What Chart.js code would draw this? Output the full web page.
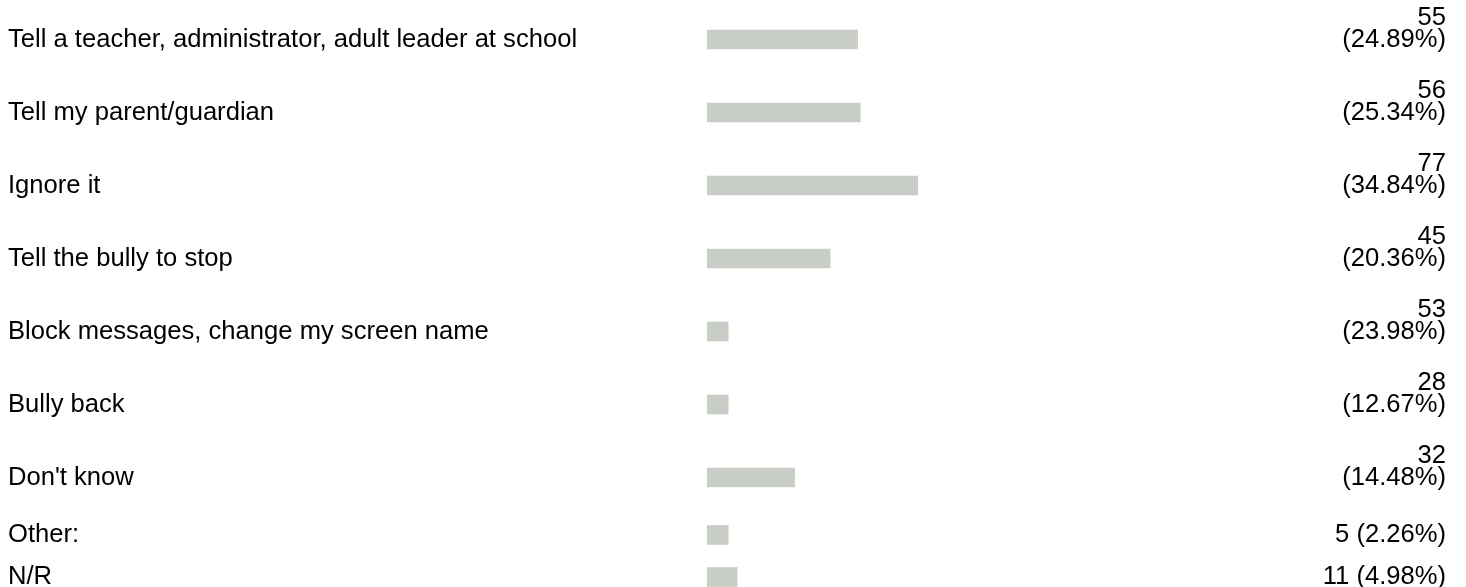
<!DOCTYPE html>
<html>
<head>
<meta charset="utf-8">
<script src="https://cdn.jsdelivr.net/npm/chart.js@4.4.1/dist/chart.umd.min.js"></script>
<style>
  html, body { margin: 0; padding: 0; background: #fff; }
  canvas { display: block; }
</style>
</head>
<body>
<canvas id="chart" width="1466" height="587"></canvas>
<script>
const answers = [
  "Tell a teacher, administrator, adult leader at school",
  "Tell my parent/guardian",
  "Ignore it",
  "Tell the bully to stop",
  "Block messages, change my screen name",
  "Bully back",
  "Don't know",
  "Other:",
  "N/R"
];
const counts = [55, 56, 77, 45, 53, 28, 32, 5, 11];
const percents = ["24.89", "25.34", "34.84", "20.36", "23.98", "12.67", "14.48", "2.26", "4.98"];
// bar lengths as drawn in the picture (percent units)
const barShown = [24.89, 25.34, 34.84, 20.36, 3.5, 3.5, 14.48, 3.5, 4.98];

const FONT = "'Liberation Sans', Arial, Helvetica, sans-serif";
const SIZE = 25.6;
const VALUE_COL = 132;
const LINE_H = 22;

// wrap value labels like the original narrow column
const mctx = document.createElement("canvas").getContext("2d");
mctx.font = `${SIZE}px ${FONT}`;
const valueLines = counts.map((c, i) => {
  const txt = `${c} (${percents[i]}%)`;
  return mctx.measureText(txt).width > VALUE_COL ? [String(c), `(${percents[i]}%)`] : [txt];
});

// row centres on the y scale: two-line rows are taller
const rowPos = [];
let acc = 0;
valueLines.forEach(l => {
  const h = l.length > 1 ? 73 : 42;
  rowPos.push(acc + h / 2);
  acc += h;
});
const yMax = 587 - 3;

const valueLabels = {
  id: "valueLabels",
  afterDatasetsDraw(chart) {
    const { ctx } = chart;
    const meta = chart.getDatasetMeta(0);
    ctx.save();
    ctx.font = `${SIZE}px ${FONT}`;
    ctx.fillStyle = "#000";
    ctx.textAlign = "right";
    ctx.textBaseline = "middle";
    meta.data.forEach((bar, i) => {
      const lines = valueLines[i];
      lines.forEach((t, k) => {
        const y = bar.y - (lines.length - 1 - k) * LINE_H;
        ctx.fillText(t, 1446, y);
      });
    });
    ctx.restore();
  }
};

new Chart(document.getElementById("chart"), {
  type: "bar",
  data: {
    datasets: [{
      data: barShown.map((v, i) => ({ x: v, y: rowPos[i] })),
      backgroundColor: "#c8cec6",
      borderWidth: 0,
      barThickness: 19
    }]
  },
  options: {
    indexAxis: "y",
    responsive: false,
    animation: false,
    layout: { padding: { left: 8, right: 154, top: 3, bottom: 0 } },
    plugins: { legend: { display: false }, tooltip: { enabled: false } },
    scales: {
      x: { type: "linear", min: 0, max: 100, display: false },
      y: {
        type: "linear",
        offset: false,
        min: 0,
        max: yMax,
        reverse: true,
        grid: { display: false, offset: false },
        border: { display: false },
        afterBuildTicks(scale) {
          scale.ticks = rowPos.map(v => ({ value: v }));
        },
        afterFit(scale) {
          scale.width = 699;
          scale.paddingTop = 0;
          scale.paddingBottom = 0;
        },
        ticks: {
          autoSkip: false,
          crossAlign: "far",
          padding: 0,
          color: "#000",
          font: { family: FONT, size: SIZE },
          callback(value, index) { return answers[index]; }
        }
      }
    }
  },
  plugins: [valueLabels]
});
</script>
</body>
</html>
